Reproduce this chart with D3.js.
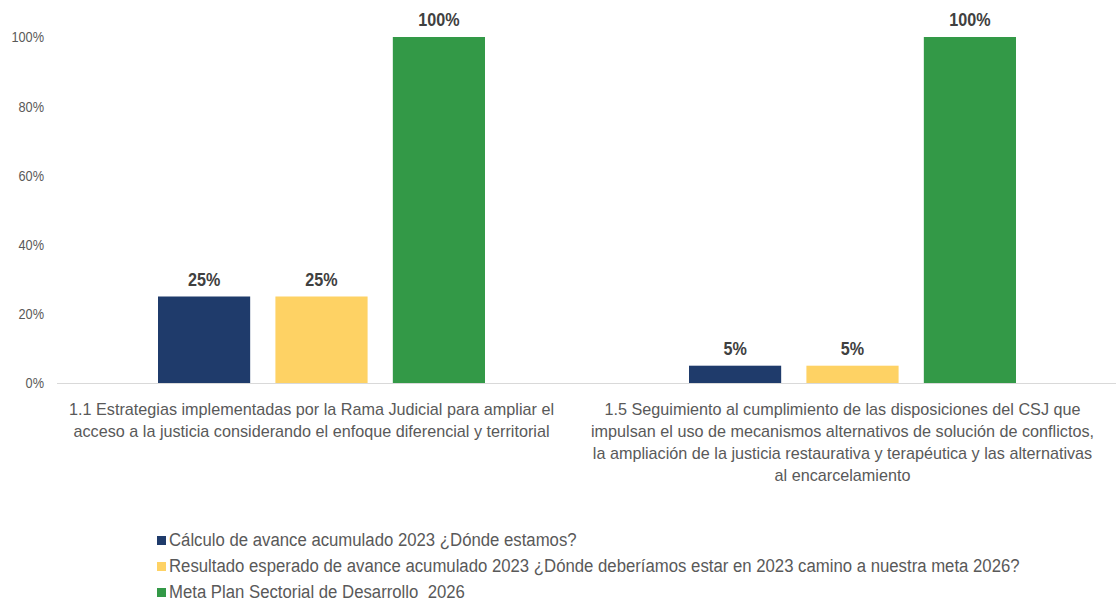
<!DOCTYPE html>
<html>
<head>
<meta charset="utf-8">
<script src="https://cdn.jsdelivr.net/npm/d3@7"></script>
<style>
body{margin:0;background:#fff;}
svg{display:block;font-family:"Liberation Sans",Arial,sans-serif;}
</style>
</head>
<body>
<svg id="chart" width="1116" height="605"></svg>
<script>
// categories (each one as its wrapped lines)
var categories=[
    ['1.1 Estrategias implementadas por la Rama Judicial para ampliar el','acceso a la justicia considerando el enfoque diferencial y territorial'],
    ['1.5 Seguimiento al cumplimiento de las disposiciones del CSJ que','impulsan el uso de mecanismos alternativos de solución de conflictos,','la ampliación de la justicia restaurativa y terapéutica y las alternativas','al encarcelamiento']
]
var seriesNames=[
    'Cálculo de avance acumulado 2023 ¿Dónde estamos?',
    'Resultado esperado de avance acumulado 2023 ¿Dónde deberíamos estar en 2023 camino a nuestra meta 2026?',
    'Meta Plan Sectorial de Desarrollo  2026'
]
var avance=[0.25,0.05]
var esperado=[0.25,0.05]
var meta=[1,1]
var yTicks=[0,0.2,0.4,0.6,0.8,1]
var colors=['#1f3b6b','#fed264','#339947']

var series=[avance,esperado,meta]
var svg=d3.select('#chart')
var margin={left:56,right:-2,top:37,bottom:222}
var W=1116,H=605
var x=d3.scaleBand().domain(d3.range(categories.length)).range([margin.left,W-margin.right]).paddingInner(0).paddingOuter(0)
var y=d3.scaleLinear().domain([0,1]).range([H-margin.bottom,margin.top])
var groupW=327
var xs=d3.scaleBand().domain(d3.range(series.length)).range([0,groupW]).paddingInner(0.215)

// no narrow font installed: squeeze the glyphs instead
function narrow(sel,f){
    sel.each(function(){
        var w=this.getComputedTextLength()
        d3.select(this).attr('textLength',w*f).attr('lengthAdjust','spacingAndGlyphs')
    })
}

// y axis labels
var yAxis=d3.axisLeft(y).tickValues(yTicks).tickFormat(d3.format('.0%')).tickSize(0).tickPadding(12)
var ga=svg.append('g').attr('transform',`translate(${margin.left},0)`).call(yAxis)
ga.select('.domain').remove()
ga.selectAll('text').attr('fill','#595959').style('font-size','15px').style('font-family','inherit').call(narrow,0.85)

// bars
series.forEach((s,i)=>{
    var g=svg.append('g')
    g.selectAll('rect')
        .data(s)
        .join('rect')
        .attr('x',(d,j)=>x(j)+(x.bandwidth()-groupW)/2+xs(i))
        .attr('y',d=>y(d))
        .attr('width',xs.bandwidth())
        .attr('height',d=>y(0)-y(d))
        .attr('fill',colors[i])
    g.selectAll('text')
        .data(s)
        .join('text')
        .attr('x',(d,j)=>x(j)+(x.bandwidth()-groupW)/2+xs(i)+xs.bandwidth()/2)
        .attr('y',d=>y(d)-11)
        .attr('text-anchor','middle')
        .attr('fill','#404040')
        .style('font-size','19px')
        .style('font-weight','bold')
        .text(d=>d3.format('.0%')(d))
        .call(narrow,0.85)
})

// baseline
svg.append('line')
    .attr('x1',margin.left+1).attr('x2',W)
    .attr('y1',y(0)+0.5).attr('y2',y(0)+0.5)
    .attr('stroke','#d9d9d9').attr('stroke-width',1)

// category labels
categories.forEach((lines,j)=>{
    var g=svg.append('g')
    g.selectAll('text')
        .data(lines)
        .join('text')
        .attr('x',x(j)+x.bandwidth()/2-10)
        .attr('y',(l,k)=>y(0)+32+k*22)
        .attr('text-anchor','middle')
        .attr('fill','#595959')
        .style('font-size','16.2px')
        .text(l=>l)
})

// legend
var lg=svg.append('g').attr('transform','translate(157,546)')
seriesNames.forEach((n,i)=>{
    var row=lg.append('g').attr('transform',`translate(0,${i*26})`)
    row.append('rect').attr('x',0).attr('y',-10).attr('width',9).attr('height',9).attr('fill',colors[i])
    row.append('text').attr('x',12).attr('y',0).attr('fill','#595959').style('font-size','18px').style('white-space','pre').text(n).call(narrow,0.93)
})
</script>
</body>
</html>
